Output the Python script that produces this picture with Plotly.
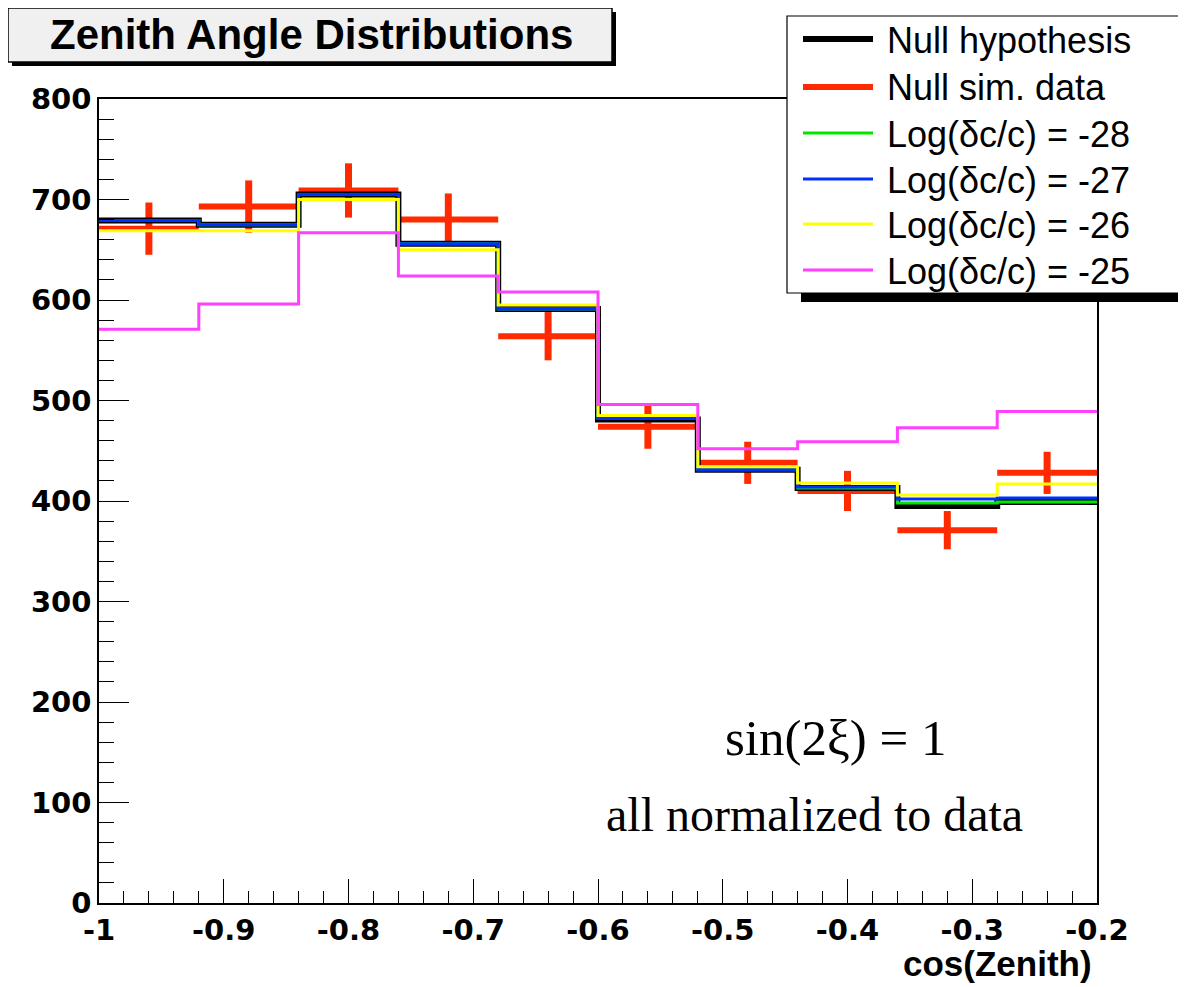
import plotly.graph_objects as go

# ---------------- data ----------------
bin_edges = [-1.0, -0.92, -0.84, -0.76, -0.68, -0.60, -0.52, -0.44, -0.36, -0.28, -0.20]
bin_centers = [-0.96, -0.88, -0.80, -0.72, -0.64, -0.56, -0.48, -0.40, -0.32, -0.24]
half_width = [0.04] * 10

null_hypothesis = [679, 675, 705, 656, 591, 481, 431, 413, 395, 399]
null_sim_data = [671, 693, 709, 680, 564, 474, 438, 410, 371, 428]
null_sim_err = [26, 26, 27, 26, 24, 22, 21, 20, 19, 21]
log_m28 = [679, 675, 705, 656, 591, 482, 431, 413, 398, 399]
log_m27 = [679, 675, 705, 656, 591, 482, 431, 414, 402, 403]
log_m26 = [669, 669, 700, 650, 595, 485, 434, 418, 406, 417]
log_m25 = [571, 596, 667, 624, 608, 496, 452, 459, 473, 489]

x_tickvals = [-1.0, -0.9, -0.8, -0.7, -0.6, -0.5, -0.4, -0.3, -0.2]
x_ticktext = ["-1", "-0.9", "-0.8", "-0.7", "-0.6", "-0.5", "-0.4", "-0.3", "-0.2"]
y_tickvals = [0, 100, 200, 300, 400, 500, 600, 700, 800]

legend_labels = ["Null hypothesis", "Null sim. data", "Log(δc/c) = -28",
                 "Log(δc/c) = -27", "Log(δc/c) = -26", "Log(δc/c) = -25"]

# ---------------- layout geometry ----------------
# page is rendered with an 8px body margin; work in page pixels and shift
OFF = 8
W, H = 1186 - OFF, 987 - OFF
L, R, T, B = 99 - OFF, 1097 - OFF, 99 - OFF, 903 - OFF


def px(x):
    return (x - OFF - L) / (R - L)


def py(y):
    return (B - (y - OFF)) / (B - T)


SANS = "Liberation Sans, Arial, Helvetica, sans-serif"
TICKF = "DejaVu Sans, Liberation Sans, sans-serif"
SERIF = "Liberation Serif, Times New Roman, serif"

C_BLACK = "#000000"
C_RED = "#ff2a00"
C_GREEN = "#00e600"
C_BLUE = "#0030ff"
C_YELLOW = "#ffff00"
C_PINK = "#ff40ff"

fig = go.Figure()

# data points with error bars
fig.add_trace(go.Scatter(
    x=bin_centers, y=null_sim_data, mode="markers",
    marker=dict(size=1, color=C_RED),
    error_x=dict(type="data", array=half_width, color=C_RED, thickness=6, width=0),
    error_y=dict(type="data", array=null_sim_err, color=C_RED, thickness=7, width=0),
    showlegend=False, hoverinfo="skip"))


def step(vals, color, width):
    fig.add_trace(go.Scatter(
        x=bin_edges, y=vals + [vals[-1]], mode="lines",
        line=dict(color=color, width=width, shape="hv"),
        showlegend=False, hoverinfo="skip"))


step(null_hypothesis, C_BLACK, 6)
step(log_m28, C_GREEN, 3)
step(log_m27, C_BLUE, 3)
step(log_m26, C_YELLOW, 3)
step(log_m25, C_PINK, 3)

shapes = []
annotations = []

# title box with shadow
shapes.append(dict(type="rect", xref="paper", yref="paper",
                   x0=px(12), x1=px(616), y0=py(66), y1=py(12),
                   fillcolor="#000000", line=dict(width=0), layer="above"))
shapes.append(dict(type="rect", xref="paper", yref="paper",
                   x0=px(8), x1=px(612), y0=py(62), y1=py(8),
                   fillcolor="#f0f0f0", line=dict(color="black", width=1.5), layer="above"))
annotations.append(dict(xref="paper", yref="paper", x=px(311), y=py(35),
                        text="<b>Zenith Angle Distributions</b>", showarrow=False,
                        xanchor="center", yanchor="middle",
                        font=dict(family=SANS, size=42, color="black")))

# legend box with shadow
shapes.append(dict(type="rect", xref="paper", yref="paper",
                   x0=px(801), x1=px(1220), y0=py(302), y1=py(28),
                   fillcolor="#000000", line=dict(width=0), layer="above"))
shapes.append(dict(type="rect", xref="paper", yref="paper",
                   x0=px(787), x1=px(1210), y0=py(293), y1=py(16),
                   fillcolor="white", line=dict(color="black", width=1.2), layer="above"))

leg_colors = [C_BLACK, C_RED, C_GREEN, C_BLUE, C_YELLOW, C_PINK]
leg_widths = [6, 6, 3, 3, 3, 3]
leg_rows = [39, 87, 133, 179, 224, 270]
for lab, col, lw, yr in zip(legend_labels, leg_colors, leg_widths, leg_rows):
    shapes.append(dict(type="line", xref="paper", yref="paper",
                       x0=px(803), x1=px(873), y0=py(yr), y1=py(yr),
                       line=dict(color=col, width=lw), layer="above"))
    annotations.append(dict(xref="paper", yref="paper", x=px(885), y=py(yr + 1),
                            text=lab, showarrow=False, xanchor="left", yanchor="middle",
                            font=dict(family=SANS, size=36, color="black")))

# text annotations
annotations.append(dict(xref="paper", yref="paper", x=px(835), y=py(738),
                        text="sin(2ξ) = 1", showarrow=False, xanchor="center", yanchor="middle",
                        font=dict(family=SERIF, size=51, color="black")))
annotations.append(dict(xref="paper", yref="paper", x=px(814), y=py(814),
                        text="all normalized to data", showarrow=False, xanchor="center",
                        yanchor="middle", font=dict(family=SERIF, size=48, color="black")))

# x-axis title
annotations.append(dict(xref="paper", yref="paper", x=px(1094), y=py(963),
                        text="<b>cos(Zenith)</b>", showarrow=False, xanchor="right",
                        yanchor="middle", font=dict(family=SANS, size=35, color="black")))

fig.update_layout(
    width=W, height=H,
    margin=dict(l=L, r=W - R, t=T, b=H - B, pad=0),
    paper_bgcolor="white", plot_bgcolor="white",
    showlegend=False,
    shapes=shapes, annotations=annotations,
    xaxis=dict(range=[-1.0, -0.2], tickmode="array", tickvals=x_tickvals, ticktext=x_ticktext,
               ticks="inside", ticklen=24, tickwidth=1.2, tickcolor="black",
               minor=dict(ticks="inside", tick0=-1.0, dtick=0.02, ticklen=12,
                          tickwidth=1.2, tickcolor="black"),
               showline=True, linecolor="black", linewidth=1.5, mirror=True,
               showgrid=False, zeroline=False,
               tickfont=dict(family=TICKF, size=29, color="black", weight="bold")),
    yaxis=dict(range=[0, 800], tickmode="array", tickvals=y_tickvals,
               ticks="inside", ticklen=30, tickwidth=1.2, tickcolor="black",
               minor=dict(ticks="inside", tick0=0, dtick=20, ticklen=15,
                          tickwidth=1.2, tickcolor="black"),
               showline=True, linecolor="black", linewidth=1.5, mirror=True,
               showgrid=False, zeroline=False,
               tickfont=dict(family=TICKF, size=29, color="black", weight="bold")),
)

fig.write_html("out.html")
